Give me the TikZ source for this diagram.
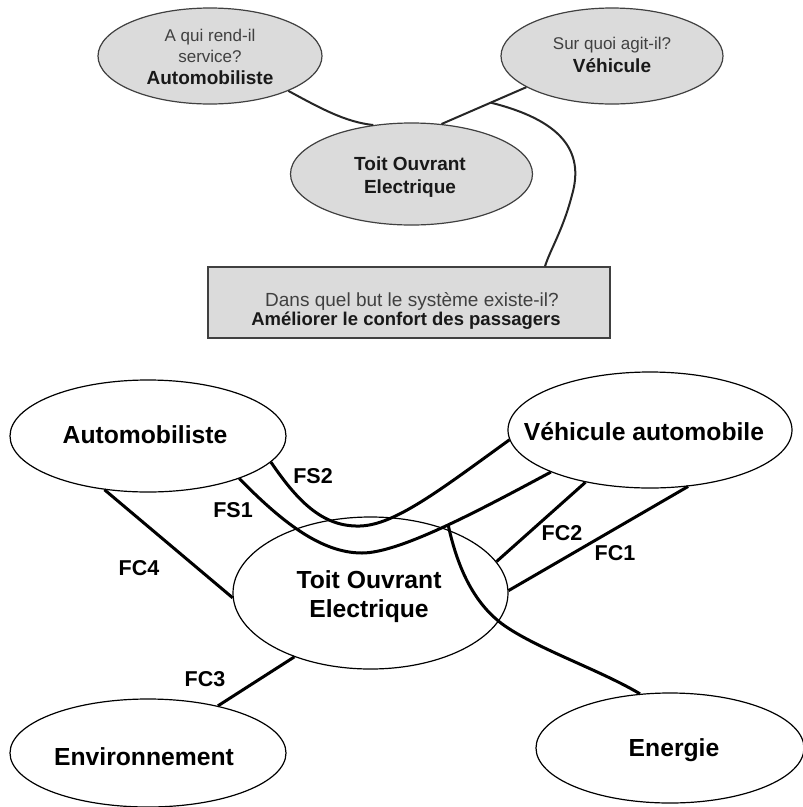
\documentclass[tikz,border=0pt]{standalone}
\usepackage{fontspec}
\setmainfont{Liberation Sans}
\usetikzlibrary{shapes.geometric}
\definecolor{topfill}{gray}{0.86}
\definecolor{topline}{gray}{0.25}
\definecolor{toptext}{gray}{0.25}
\definecolor{topbold}{gray}{0.1}
\begin{document}
\begin{tikzpicture}[x=1pt,y=-1pt,
  topell/.style={ellipse, draw=topline, fill=topfill, line width=1.2pt, inner sep=0pt},
  topbox/.style={rectangle, draw=topline, fill=topfill, line width=1.2pt, inner sep=0pt, minimum width=402pt, minimum height=71pt},
  toplink/.style={draw=black!85, line width=2pt},
  qtxt/.style={anchor=base, inner sep=0pt, text=toptext, font=\fontsize{17}{20}\selectfont},
  atxt/.style={anchor=base, inner sep=0pt, text=topbold, font=\fontsize{19}{22}\selectfont\bfseries},
  botell/.style={ellipse, draw=black, line width=1.2pt, inner sep=0pt},
  btxt/.style={anchor=base, inner sep=0pt, font=\fontsize{24.7}{28}\selectfont\bfseries},
  flink/.style={draw=black, line width=3pt},
  flab/.style={anchor=base, inner sep=0pt, font=\fontsize{21.5}{24}\selectfont\bfseries}]

\path[use as bounding box, fill=white] (0,0) rectangle (803,807);

% ---------- top: bete a cornes ----------
\node[topell, minimum width=224pt, minimum height=96pt] (qE) at (210,56) {};
\node[topell, minimum width=222pt, minimum height=96pt] (vE) at (612,56) {};
\node[topell, minimum width=242pt, minimum height=102pt] (tE) at (411.5,174) {};
\node[topbox] (box) at (409,302.5) {};

\draw[toplink] (qE.-24) .. controls (320,108) and (345,122) .. (tE.128);
\draw[toplink] (vE.200) -- (tE.59) coordinate[pos=0.42] (br);
\coordinate (bm) at (572,195);
\draw[toplink] (br) .. controls (560,120) and (585,150) .. (bm)
  .. controls (563,230) and (550,250) .. ([xshift=136pt]box.north);

\node[qtxt] (q1) at (210,41) {A qui rend-il};
\node[qtxt] (q2) at (210,62) {service?};
\node[atxt] (a1) at (210,84) {Automobiliste};
\node[qtxt] (q3) at (612,49) {Sur quoi agit-il?};
\node[atxt] (a2) at (612,72) {Véhicule};
\node[atxt] (t1) at (410,170) {Toit Ouvrant};
\node[atxt] (t2) at (410,193) {Electrique};
\node[qtxt, font=\fontsize{19}{21}\selectfont] (b1) at (412,306) {Dans quel but le système existe-il?};
\node[atxt, font=\fontsize{18.5}{21}\selectfont\bfseries] (b2) at (406,325) {Améliorer le confort des passagers};

% ---------- bottom: pieuvre ----------
\node[botell, minimum width=276pt, minimum height=112pt] (A) at (148,436) {};
\node[botell, minimum width=284pt, minimum height=116pt] (V) at (650,430) {};
\node[botell, minimum width=275pt, minimum height=152pt] (T) at (370.5,593) {};
\node[botell, minimum width=276pt, minimum height=108pt] (Env) at (148,753) {};
\node[botell, minimum width=268pt, minimum height=110pt] (En) at (670,748) {};

\node[btxt] (At) at (145,443) {Automobiliste};
\node[btxt] (Vt) at (644,440) {Véhicule automobile};
\node[btxt] (Tt1) at (369,588) {Toit Ouvrant};
\node[btxt] (Tt2) at (369,617) {Electrique};
\node[btxt] (Envt) at (144,765) {Environnement};
\node[btxt] (Ent) at (674,756) {Energie};

\draw[flink] (A.231.5) -- (T.182);
\draw[flink] (T.220.8) -- (Env.34.3);
\draw[flink] (V.219) -- (T.14.8);
\draw[flink] (V.-56.8) -- (T.1.25);
\draw[flink] (A.-12.5) .. controls (300,505) and (325,527) .. (360,526)
  .. controls (395,525) and (440,490) .. (V.184);
\draw[flink] (A.-25.8) .. controls (280,520) and (320,553) .. (362,553)
  .. controls (400,553) and (480,510) .. (V.203.3) coordinate[pos=0.52] (eb);
\draw[flink] (eb) .. controls (458,570) and (475,605) .. (505,626)
  .. controls (540,650) and (600,670) .. (En.119);

\node[flab] (fs2) at (313,483) {FS2};
\node[flab] (fs1) at (233,517) {FS1};
\node[flab] (fc4) at (139,575) {FC4};
\node[flab] (fc3) at (205,686) {FC3};
\node[flab] (fc2) at (562,540) {FC2};
\node[flab] (fc1) at (615,560) {FC1};
\end{tikzpicture}
\end{document}
